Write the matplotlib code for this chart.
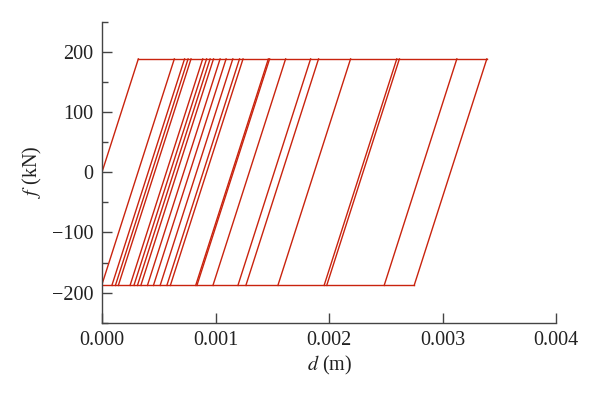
import numpy as np
import matplotlib
matplotlib.use("Agg")
import matplotlib.pyplot as plt
from matplotlib.ticker import MultipleLocator

# yield force (kN) and yield displacement (m)
f_yield = 188.0
d_yield = 0.00032

# displacement where each elastic branch meets the +f_yield plateau (m)
branch_tops = [0.000637, 0.000727, 0.000758, 0.000784, 0.000887, 0.000921,
               0.000952, 0.000982, 0.001040, 0.001093, 0.001152, 0.001211,
               0.001242, 0.001465, 0.001476, 0.001617, 0.001837, 0.001907,
               0.002189, 0.002596, 0.002619, 0.003125, 0.003389]

red = "#c9230e"
plt.rcParams["font.family"] = ["Liberation Serif", "DejaVu Serif"]
plt.rcParams["mathtext.fontset"] = "stix"

fig = plt.figure(figsize=(6, 3.99), dpi=100)
ax = fig.add_axes([0.17, 0.191, 0.757, 0.755])

span = 2 * d_yield
# initial loading
ax.plot([0, d_yield], [0, f_yield], color=red, lw=1.0)
# plateaus
ax.plot([d_yield, max(branch_tops)], [f_yield, f_yield], color=red, lw=1.0)
ax.plot([min(branch_tops) - span, max(branch_tops) - span], [-f_yield, -f_yield], color=red, lw=1.0)
# elastic branches
for t in branch_tops:
    ax.plot([t - span, t], [-f_yield, f_yield], color=red, lw=1.0)

ax.set_xlim(0, 0.004)
ax.set_ylim(-250, 250)
ax.xaxis.set_major_locator(MultipleLocator(0.001))
ax.yaxis.set_major_locator(MultipleLocator(100))
ax.yaxis.set_minor_locator(MultipleLocator(50))
ax.xaxis.set_major_formatter(plt.FormatStrFormatter("%.3f"))
ax.yaxis.set_major_formatter(plt.FuncFormatter(lambda v, p: f"{int(v)}".replace("-", "\u2212")))

for s in ["top", "right"]:
    ax.spines[s].set_visible(False)
for s in ["left", "bottom"]:
    ax.spines[s].set_color("#444444")
    ax.spines[s].set_linewidth(1.0)
ax.tick_params(which="major", direction="in", length=7, width=1.0, color="#444444",
               labelsize=14.5, labelcolor="#222222", pad=6)
ax.tick_params(which="minor", direction="in", length=4, width=1.0, color="#444444")

ax.set_xlabel("$d$ (m)", fontsize=14.5, color="#222222", labelpad=3)
ax.set_ylabel("$f$ (kN)", fontsize=14.5, color="#222222", labelpad=6)

fig.savefig("out.png", dpi=100)
